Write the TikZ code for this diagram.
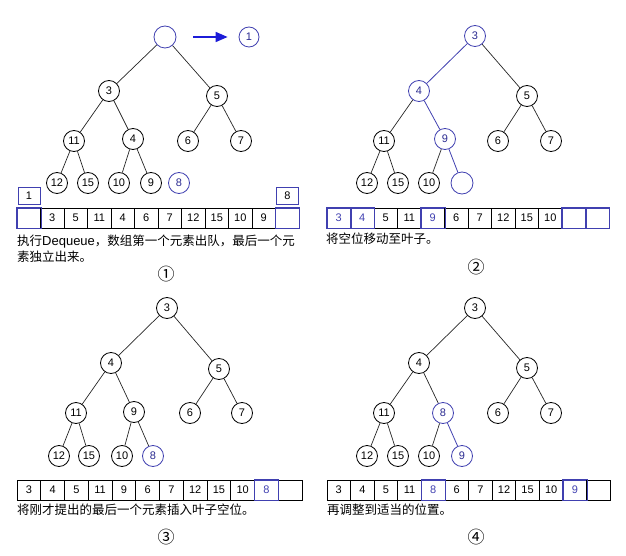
\documentclass[tikz,border=0pt]{standalone}
\usepackage{fontspec}
\setmainfont{Liberation Sans}
\newfontfamily\cjk{Noto Sans CJK SC}
\usetikzlibrary{arrows.meta}
\definecolor{bl}{HTML}{4040B0}
\definecolor{blt}{HTML}{2A2A90}
\definecolor{arr}{HTML}{1C1CD8}
\colorlet{ck}{black}
\colorlet{cb}{bl}
\tikzset{
 nd/.style={circle,draw=black,line width=0.8pt,minimum size=21pt,inner sep=0pt,font=\fontsize{11}{11}\selectfont},
 bnd/.style={nd,draw=bl,text=blt},
 edge/.style={line width=0.7pt,draw=black!85},
 bedge/.style={line width=0.8pt,draw=bl},
 cell/.style={draw,line width=0.8pt,minimum height=20pt,inner sep=0pt,font=\fontsize{11}{11}\selectfont},
 captxt/.style={anchor=west,inner sep=0pt,font=\cjk\fontsize{12.5}{16}\selectfont,align=left},
 num/.style={inner sep=0pt,font=\cjk\fontsize{17}{17}\selectfont},
}
\begin{document}
\begin{tikzpicture}[x=1pt,y=-1pt]
\useasboundingbox (0,0) rectangle (626,556);
% ---------------- panel 1
\node[bnd,minimum size=22pt] (p1r) at (165,37) {};
\node[bnd,minimum size=20pt] (one) at (249,37) {1};
\draw[arr,line width=1.6pt,-{Triangle[length=12pt,width=10pt]},shorten <=17pt,shorten >=11pt] (p1r) -- (one);
\node[nd] (p1a) at (109,91) {3};
\node[nd] (p1b) at (217,96) {5};
\node[nd] (p1c) at (74,141) {11};
\node[nd] (p1d) at (133,139) {4};
\node[nd] (p1e) at (188,141) {6};
\node[nd] (p1f) at (241,141) {7};
\node[nd] (p1g) at (57,183) {12};
\node[nd] (p1h) at (88,183) {15};
\node[nd] (p1i) at (119,183) {10};
\node[nd] (p1j) at (151,183) {9};
\node[bnd] (p1k) at (179,183) {8};
\draw[edge] (p1r) -- (p1a); \draw[edge] (p1r) -- (p1b);
\draw[edge] (p1a) -- (p1c); \draw[edge] (p1a) -- (p1d);
\draw[edge] (p1b) -- (p1e); \draw[edge] (p1b) -- (p1f);
\draw[edge] (p1c) -- (p1g); \draw[edge] (p1c) -- (p1h);
\draw[edge] (p1d) -- (p1i); \draw[edge] (p1d) -- (p1j);
\node[cell,draw=bl,minimum width=22pt,minimum height=17pt] (box1) at (29,195.5) {1};
\node[cell,draw=bl,minimum width=22pt,minimum height=17pt] (box8) at (287.5,195.5) {8};
\foreach \v/\c [count=\i] in {{}/cb,3/ck,5/ck,11/ck,4/ck,6/ck,7/ck,12/ck,15/ck,10/ck,9/ck,{}/cb}
  \node[cell,minimum width=23.5pt,draw=\c,text=\c] (a1c\i) at ({17+(\i-0.5)*23.5},218) {\v};
\foreach \i in {1,12} \draw[bl,line width=0.8pt] (a1c\i.south west) rectangle (a1c\i.north east);
\node[captxt] (t1) at (17,249) {执行{\rmfamily\fontsize{13}{16}\selectfont Dequeue}，数组第一个元素出队，最后一个元\\素独立出来。};
\node[num] (n1) at (166,274) {①};
% ---------------- panel 2
\node[bnd] (p2r) at (475,36) {3};
\node[bnd] (p2a) at (419,91) {4};
\node[nd] (p2b) at (527,96) {5};
\node[nd] (p2c) at (384,141) {11};
\node[bnd] (p2d) at (445,139) {9};
\node[nd] (p2e) at (498,141) {6};
\node[nd] (p2f) at (551,141) {7};
\node[nd] (p2g) at (367,183) {12};
\node[nd] (p2h) at (398,183) {15};
\node[nd] (p2i) at (429,183) {10};
\node[bnd,minimum size=22pt] (p2j) at (462,183) {};
\draw[bedge] (p2r) -- (p2a); \draw[edge] (p2r) -- (p2b);
\draw[edge] (p2a) -- (p2c); \draw[bedge] (p2a) -- (p2d);
\draw[edge] (p2b) -- (p2e); \draw[edge] (p2b) -- (p2f);
\draw[edge] (p2c) -- (p2g); \draw[edge] (p2c) -- (p2h);
\draw[edge] (p2d) -- (p2i); \draw[bedge] (p2d) -- (p2j);
\foreach \v/\c [count=\i] in {3/cb,4/cb,5/ck,11/ck,9/cb,6/ck,7/ck,12/ck,15/ck,10/ck,{}/cb,{}/cb}
  \node[cell,minimum width=23.5pt,draw=\c,text=\c] (a2c\i) at ({327+(\i-0.5)*23.5},218) {\v};
\foreach \i in {1,2,5,11,12} \draw[bl,line width=0.8pt] (a2c\i.south west) rectangle (a2c\i.north east);
\node[captxt] (t2) at (326,239) {将空位移动至叶子。};
\node[num] (n2) at (476,267) {②};
% ---------------- panel 3
\node[nd] (p3r) at (167,308) {3};
\node[nd] (p3a) at (111,363) {4};
\node[nd] (p3b) at (219,369) {5};
\node[nd] (p3c) at (76,413) {11};
\node[nd] (p3d) at (134,412) {9};
\node[nd] (p3e) at (190,413) {6};
\node[nd] (p3f) at (242,413) {7};
\node[nd] (p3g) at (59,456) {12};
\node[nd] (p3h) at (89,456) {15};
\node[nd] (p3i) at (122,456) {10};
\node[bnd] (p3j) at (153,456) {8};
\draw[edge] (p3r) -- (p3a); \draw[edge] (p3r) -- (p3b);
\draw[edge] (p3a) -- (p3c); \draw[edge] (p3a) -- (p3d);
\draw[edge] (p3b) -- (p3e); \draw[edge] (p3b) -- (p3f);
\draw[edge] (p3c) -- (p3g); \draw[edge] (p3c) -- (p3h);
\draw[edge] (p3d) -- (p3i); \draw[edge] (p3d) -- (p3j);
\foreach \v/\c [count=\i] in {3/ck,4/ck,5/ck,11/ck,9/ck,6/ck,7/ck,12/ck,15/ck,10/ck,8/cb,{}/ck}
  \node[cell,minimum width=23.75pt,draw=\c,text=\c] (a3c\i) at ({17+(\i-0.5)*23.75},490) {\v};
\foreach \i in {11} \draw[bl,line width=0.8pt] (a3c\i.south west) rectangle (a3c\i.north east);
\node[captxt] (t3) at (17,510) {将刚才提出的最后一个元素插入叶子空位。};
\node[num] (n3) at (166,537) {③};
% ---------------- panel 4
\node[nd] (p4r) at (475,308) {3};
\node[nd] (p4a) at (419,363) {4};
\node[nd] (p4b) at (527,368) {5};
\node[nd] (p4c) at (384,413) {11};
\node[bnd] (p4d) at (443,413) {8};
\node[nd] (p4e) at (498,413) {6};
\node[nd] (p4f) at (551,413) {7};
\node[nd] (p4g) at (367,456) {12};
\node[nd] (p4h) at (398,456) {15};
\node[nd] (p4i) at (429,456) {10};
\node[bnd] (p4j) at (462,456) {9};
\draw[edge] (p4r) -- (p4a); \draw[edge] (p4r) -- (p4b);
\draw[edge] (p4a) -- (p4c); \draw[edge] (p4a) -- (p4d);
\draw[edge] (p4b) -- (p4e); \draw[edge] (p4b) -- (p4f);
\draw[edge] (p4c) -- (p4g); \draw[edge] (p4c) -- (p4h);
\draw[edge] (p4d) -- (p4i); \draw[bedge] (p4d) -- (p4j);
\foreach \v/\c [count=\i] in {3/ck,4/ck,5/ck,11/ck,8/cb,6/ck,7/ck,12/ck,15/ck,10/ck,9/cb,{}/ck}
  \node[cell,minimum width=23.6pt,draw=\c,text=\c] (a4c\i) at ({327+(\i-0.5)*23.6},490) {\v};
\foreach \i in {5,11} \draw[bl,line width=0.8pt] (a4c\i.south west) rectangle (a4c\i.north east);
\node[captxt] (t4) at (327,510) {再调整到适当的位置。};
\node[num] (n4) at (476,537) {④};
\end{tikzpicture}
\end{document}
